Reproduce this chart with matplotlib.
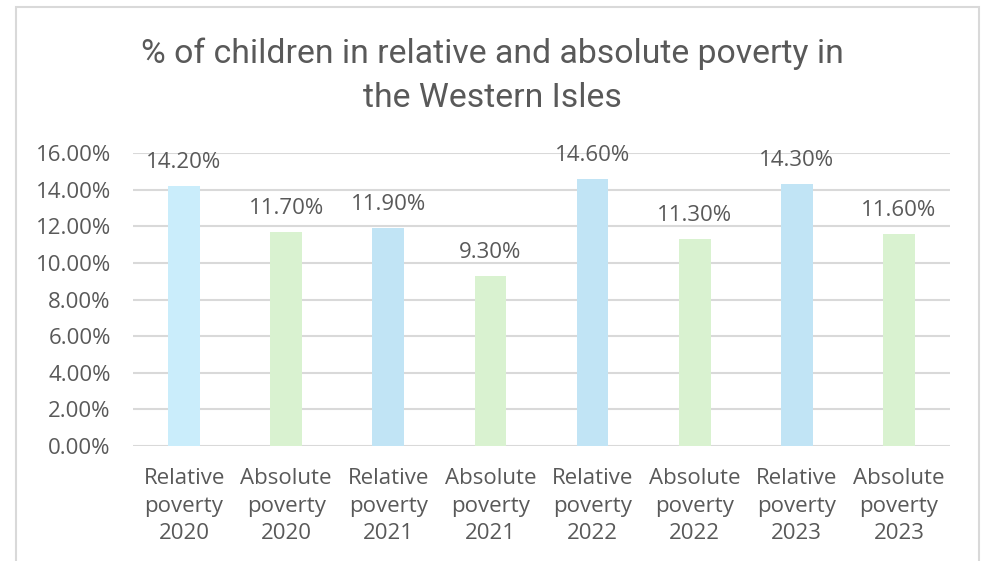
import matplotlib
matplotlib.use('Agg')
import matplotlib.pyplot as plt
from matplotlib.patches import Rectangle
from matplotlib.ticker import FuncFormatter

categories = ['Relative\npoverty\n2020', 'Absolute\npoverty\n2020',
              'Relative\npoverty\n2021', 'Absolute\npoverty\n2021',
              'Relative\npoverty\n2022', 'Absolute\npoverty\n2022',
              'Relative\npoverty\n2023', 'Absolute\npoverty\n2023']
values = [14.2, 11.7, 11.9, 9.3, 14.6, 11.3, 14.3, 11.6]
colors = ['#CAEDFB', '#D9F2D0', '#C1E4F5', '#D9F2D0',
          '#C1E4F5', '#D9F2D0', '#C1E4F5', '#D9F2D0']
y_ticks = [0, 2, 4, 6, 8, 10, 12, 14, 16]

plt.rcParams['font.family'] = ['Open Sans', 'DejaVu Sans']
text_col = '#595959'

fig = plt.figure(figsize=(9.85, 5.61), dpi=100)
ax = fig.add_axes([133 / 985, 1 - 446 / 561, (950 - 133) / 985, (446 - 153) / 561])

# chart border
fig.patches.append(Rectangle((16 / 985, -0.05), (979 - 16) / 985, 1.05 - 7 / 561,
                             transform=fig.transFigure, fill=False,
                             edgecolor='#D9D9D9', linewidth=1.5))

x = range(len(values))
ax.bar(x, values, width=0.31, color=colors, zorder=3)

for xi, v in zip(x, values):
    ax.annotate(f'{v:.2f}%', (xi, v), xytext=(0, 13), textcoords='offset points',
                ha='center', va='baseline', fontsize=16, color=text_col)

ax.set_xlim(-0.5, 7.5)
ax.set_ylim(0, 16)
ax.set_yticks(y_ticks)
ax.yaxis.set_major_formatter(FuncFormatter(lambda v, p: f'{v:.2f}%'))
ax.set_xticks(list(x))
ax.set_xticklabels(categories, linespacing=1.4)
ax.tick_params(axis='both', length=0, labelsize=16, labelcolor=text_col)
ax.tick_params(axis='x', pad=16)
ax.tick_params(axis='y', pad=16)
ax.grid(axis='y', color='#D9D9D9', linewidth=1.5, zorder=0)
for s in ax.spines.values():
    s.set_visible(False)

fig.text(0.5, 1 - 76 / 561, '% of children in relative and absolute poverty in\nthe Western Isles',
         ha='center', va='center', fontsize=24.3, color=text_col, linespacing=1.5,
         family=['Roboto', 'DejaVu Sans'])

fig.savefig('out.png', dpi=100)
